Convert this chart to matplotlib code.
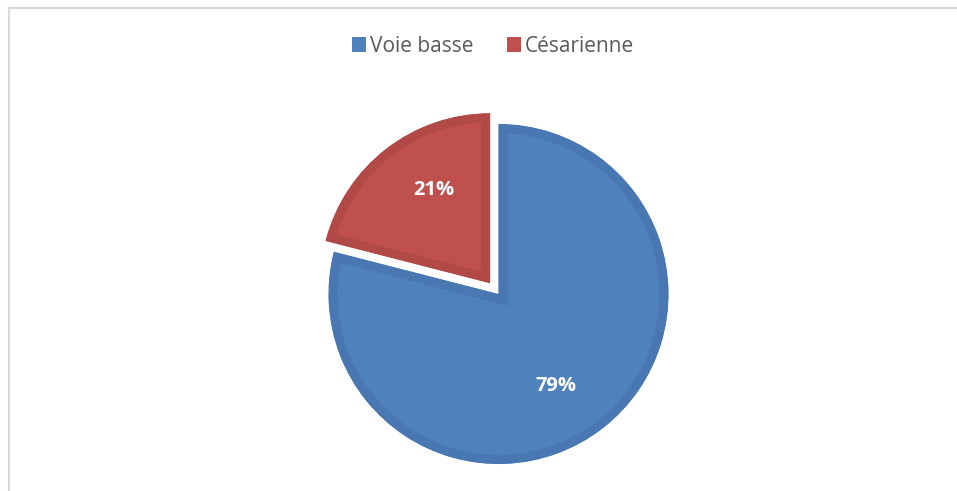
import numpy as np
import matplotlib.pyplot as plt
from matplotlib.lines import Line2D

labels = ['Voie basse', 'Césarienne']
values = [79, 21]
fills = ['#4F81BD', '#C0504D']
edges = ['#4877B1', '#B14A47']

W, H = 957, 491
fig = plt.figure(figsize=(W / 100, H / 100), dpi=100)

# pie box: centre and radius in pixels
cx, cy, r, half = 498.5, 197, 170, 190
ax = fig.add_axes([(cx - half) / W, (cy - half) / H, 2 * half / W, 2 * half / H])

wedges, texts, autotexts = ax.pie(
    values, colors=fills, startangle=90, counterclock=False,
    explode=[0, 0.08], radius=1, autopct='%d%%', pctdistance=0.64,
    textprops=dict(color='white', fontsize=14.5, fontweight='bold',
                   family='Open Sans'),
    wedgeprops=dict(linewidth=13, joinstyle='miter'))
ax.set_xlim(-half / r, half / r)
ax.set_ylim(-half / r, half / r)
ax.set_aspect('equal')
ax.axis('off')

# keep the darker border inside each slice
for w, ec in zip(wedges, edges):
    w.set_edgecolor(ec)
    w.set_clip_path(w)
    w.set_clip_on(True)
for t in texts:
    t.set_visible(False)

# labels sit a little clockwise of the slice middle
for t in autotexts:
    x, y = t.get_position()
    a = np.deg2rad(-6)
    t.set_position((x * np.cos(a) - y * np.sin(a), x * np.sin(a) + y * np.cos(a)))

leg = fig.legend(wedges, labels, loc='center', ncol=2, frameon=False,
                 bbox_to_anchor=(493 / W, 1 - 46 / H),
                 prop=dict(family='Open Sans', size=15),
                 handlelength=0.68, handleheight=0.7, handletextpad=0.2,
                 columnspacing=1.6, labelcolor='#595959')
for h, c in zip(leg.legend_handles, fills):
    h.set_linewidth(0)
    h.set_facecolor(c)
    h.set_clip_on(False)

# chart area frame (top and left only)
fc = '#D9D9D9'
fig.add_artist(Line2D([8.5 / W, 1], [1 - 7.5 / H, 1 - 7.5 / H],
                      transform=fig.transFigure, color=fc, lw=1.5))
fig.add_artist(Line2D([8.5 / W, 8.5 / W], [0, 1 - 7.5 / H],
                      transform=fig.transFigure, color=fc, lw=1.5))

fig.savefig('out.png', dpi=100)
